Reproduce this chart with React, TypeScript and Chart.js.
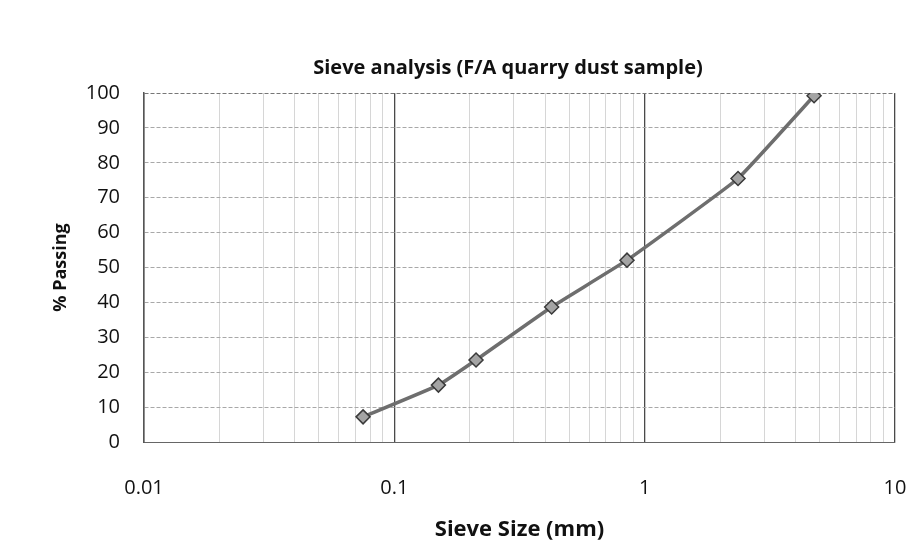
import React, { useEffect, useRef } from "react";
import { Chart, registerables } from "chart.js";

Chart.register(...registerables);

// ---- Data ----
const sieveSizes = [0.075, 0.15, 0.212, 0.425, 0.85, 2.36, 4.75];
const percentPassing = [7.2, 16.3, 23.5, 38.7, 52.1, 75.5, 99.2];
const xTickLabels = ["0.01", "0.1", "1", "10"];
const chartTitle = "Sieve analysis (F/A quarry dust sample)";
const xTitle = "Sieve Size (mm)";
const yTitle = "% Passing";

const FONT = "'Open Sans', 'Noto Sans', sans-serif";

const isDecade = (v: number) => {
  const l = Math.log10(v);
  return Math.abs(l - Math.round(l)) < 1e-9;
};

// Center the title over the same span Excel used (slightly left of the plot centre)
const titleSpanPlugin = {
  id: "titleSpan",
  afterLayout(chart: any) {
    const tb = chart.titleBlock;
    if (tb) {
      tb.left = 120;
      tb.right = 896;
      tb.width = tb.right - tb.left;
    }
  },
};

export default function App() {
  const ref = useRef<HTMLCanvasElement | null>(null);

  useEffect(() => {
    document.body.style.margin = "0";
    const canvas = ref.current!;
    const chart = new Chart(canvas, {
      type: "line",
      data: {
        datasets: [
          {
            label: "% Passing",
            data: sieveSizes.map((x, i) => ({ x, y: percentPassing[i] })),
            borderColor: "#6e6e6e",
            borderWidth: 3.5,
            backgroundColor: "#a8a8a8",
            pointStyle: "rectRot",
            pointRadius: 7,
            pointBorderColor: "#3a3a3a",
            pointBackgroundColor: "#a4a4a4",
            pointBorderWidth: 1.5,
            tension: 0.1,
            fill: false,
          },
        ],
      },
      plugins: [titleSpanPlugin],
      options: {
        responsive: false,
        animation: false,
        events: [],
        layout: { padding: { left: 0, right: 29, top: 0, bottom: 0 } },
        plugins: {
          legend: { display: false },
          tooltip: { enabled: false },
          title: {
            display: true,
            text: chartTitle,
            color: "#111",
            font: { family: FONT, size: 20, weight: "bold", lineHeight: 1.2 },
            padding: { top: 56, bottom: 13 },
          },
        },
        scales: {
          x: {
            type: "logarithmic",
            min: 0.01,
            max: 10,
            afterBuildTicks: (scale: any) => {
              const t: { value: number }[] = [];
              for (let e = -2; e <= 1; e++) {
                for (let m = 1; m <= 9; m++) {
                  const v = parseFloat((m * Math.pow(10, e)).toPrecision(6));
                  if (v <= 10) t.push({ value: v });
                }
              }
              scale.ticks = t;
            },
            afterFit: (scale: any) => {
              scale.height = 117;
              scale.paddingLeft = 0;
              scale.paddingRight = 0;
            },
            ticks: {
              autoSkip: false,
              maxRotation: 0,
              minRotation: 0,
              padding: 34,
              color: "#111",
              font: { family: FONT, size: 20, lineHeight: 1.2 },
              callback: (value: any) => {
                const v = Number(value);
                if (!isDecade(v)) return "";
                const idx = Math.round(Math.log10(v)) + 2;
                return xTickLabels[idx] ?? "";
              },
            },
            grid: {
              drawTicks: false,
              color: (ctx: any) =>
                ctx.tick && isDecade(ctx.tick.value) ? "#4a4a4a" : "#d6d6d6",
              lineWidth: (ctx: any) =>
                ctx.tick && isDecade(ctx.tick.value) ? 1.3 : 1,
            },
            border: { display: true, color: "#666", width: 1 },
            title: {
              display: true,
              text: xTitle,
              color: "#111",
              font: { family: FONT, size: 22, weight: "bold", lineHeight: 1.2 },
              padding: { top: 0, bottom: 16 },
            },
          },
          y: {
            type: "linear",
            min: 0,
            max: 100,
            afterFit: (scale: any) => {
              scale.width = 144;
            },
            ticks: {
              stepSize: 10,
              padding: 24,
              color: "#111",
              font: { family: FONT, size: 20, lineHeight: 1.2 },
            },
            grid: {
              drawTicks: false,
              color: (ctx: any) =>
                ctx.tick && ctx.tick.value === 100 ? "#777" : "#a8a8a8",
              lineWidth: 1,
            },
            border: { display: true, color: "#555", width: 1.5, dash: [4, 2] },
            title: {
              display: true,
              text: yTitle,
              color: "#111",
              font: { family: FONT, size: 18, weight: "bold", lineHeight: 1.2 },
              padding: { top: 50, bottom: 0 },
            },
          },
        },
      },
    } as any);
    return () => chart.destroy();
  }, []);

  return (
    <div style={{ width: 924, height: 559, background: "#fff" }}>
      <canvas ref={ref} width={924} height={559} style={{ display: "block" }} />
    </div>
  );
}
